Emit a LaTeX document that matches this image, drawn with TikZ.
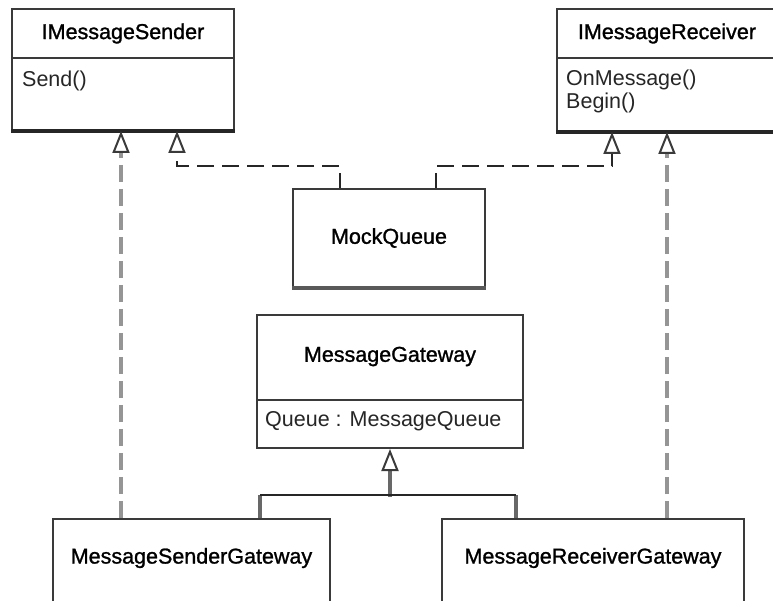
\documentclass[tikz,border=0pt]{standalone}
\usepackage{fontspec}
\setmainfont{Liberation Sans}
\newfontfamily\titlefont[FakeBold=1.2]{Liberation Sans}
\usetikzlibrary{arrows.meta,calc}
\definecolor{boxline}{HTML}{3A3A3A}
\definecolor{dashgray}{HTML}{959595}
\tikzset{
  x=1pt, y=-1pt,
  umlbox/.style={draw=boxline, line width=2pt, fill=white, rectangle, inner sep=0pt, anchor=north west},
  titletext/.style={font=\titlefont\fontsize{21.5}{23}\selectfont, text=black},
  membertext/.style={font=\fontsize{21.5}{23}\selectfont, text=black!85, anchor=west, inner sep=0pt, align=left},
  opentip/.style={-{Triangle[open, length=22pt, width=17pt, line width=2pt, color=boxline]}},
  realize/.style={dashgray, line width=3.2pt, dash pattern=on 17pt off 7pt, opentip},
  realizeblack/.style={black!85, line width=2.2pt, dash pattern=on 17pt off 8pt, opentip},
  inherit/.style={dashgray!70!black, line width=3.5pt, opentip},
  bar/.style={black!85, line width=2.2pt},
  stub/.style={dashgray!70!black, line width=3.5pt},
  shadow/.style={black!85, line width=4pt},
}
\begin{document}
\begin{tikzpicture}
\useasboundingbox (0,0) rectangle (773,601);
\clip (0,0) rectangle (773,601);

% IMessageSender
\node[umlbox, minimum width=222pt, minimum height=49pt] (sendH) at (11,8) {};
\node[umlbox, minimum width=222pt, minimum height=72pt] (sendB) at (11,57) {};
\draw[shadow] (sendB.south west) -- (sendB.south east);
\node[titletext] (sendT) at (sendH.center) {IMessageSender};
\node[membertext] (sendM) at ($(sendB.north west)+(11,24)$) {Send()};

% IMessageReceiver
\node[umlbox, minimum width=220pt, minimum height=49pt] (recvH) at (556,8) {};
\node[umlbox, minimum width=220pt, minimum height=73pt] (recvB) at (556,57) {};
\draw[shadow] (recvB.south west) -- (recvB.south east);
\node[titletext] (recvT) at (recvH.center) {IMessageReceiver};
\node[membertext] (recvM1) at ($(recvB.north west)+(10,23)$) {OnMessage()};
\node[membertext] (recvM2) at ($(recvB.north west)+(10,46)$) {Begin()};

% MockQueue
\node[umlbox, minimum width=192pt, minimum height=98pt] (mq) at (292,188) {};
\draw[shadow, black!65] (mq.south west) -- (mq.south east);
\node[titletext] (mqT) at (mq.center) {MockQueue};

% MessageGateway
\node[umlbox, minimum width=266pt, minimum height=85pt] (gwH) at (256,314) {};
\node[umlbox, minimum width=266pt, minimum height=48pt] (gwB) at (256,399) {};
\node[titletext] (gwT) at ($(gwH.center)+(0,-1)$) {MessageGateway};
\node[membertext] (gwM) at ($(gwB.north west)+(9,22)$) {Queue : MessageQueue};

% Gateways
\node[umlbox, minimum width=277pt, minimum height=110pt] (msg) at (52,518) {};
\node[titletext] (msgT) at ($(msg.north)+(0,40)$) {MessageSenderGateway};
\node[umlbox, minimum width=302pt, minimum height=110pt] (mrg) at (441,518) {};
\node[titletext] (mrgT) at ($(mrg.north)+(0,40)$) {MessageReceiverGateway};

% realizations (gray dashed)
\draw[realize] ($(msg.north west)+(69,0)$) -- ($(sendB.south west)+(110,0)$);
\draw[realize] ($(mrg.north west)+(226,0)$) -- ($(recvB.south west)+(111,0)$);

% MockQueue realizations
\coordinate (mqL) at ($(mq.north west)+(48,0)$);
\coordinate (mqR) at ($(mq.north west)+(144,0)$);
\draw[realizeblack, dash phase=2pt] (mqL) -- ++(0,-22) -| ($(sendB.south west)+(166,0)$);
\draw[realizeblack, dash phase=2pt] (mqR) -- ++(0,-22) -| ($(recvB.south west)+(56,0)$);

% generalization
\coordinate (junc) at ($(gwB.south)+(0,48)$);
\coordinate (jl) at ($(msg.north west)+(208,-23)$);
\coordinate (jr) at ($(mrg.north west)+(75,-23)$);
\draw[stub] (jl) -- ($(msg.north west)+(208,0)$);
\draw[stub] (jr) -- ($(mrg.north west)+(75,0)$);
\draw[inherit] (junc) -- (gwB.south);
\draw[bar] (jl) -- (jr);
\end{tikzpicture}
\end{document}
